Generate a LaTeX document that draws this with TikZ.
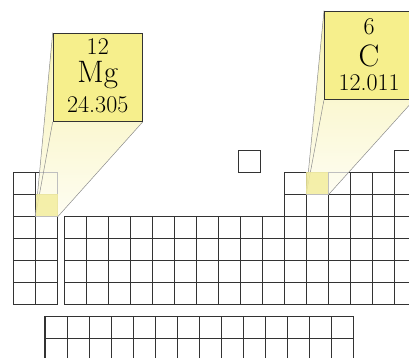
\documentclass[tikz,border=0pt]{standalone}
\usepackage{tikz}
\usetikzlibrary{positioning}
\definecolor{tilefill}{HTML}{F6EF8C}
\definecolor{conetop}{HTML}{F7F2B2}
\definecolor{conebot}{HTML}{FEFDF2}
\definecolor{hilitefill}{HTML}{F3ED9E}
\pgfdeclarelayer{gridlayer}
\pgfdeclarelayer{conelayer}
\pgfsetlayers{gridlayer,conelayer,main}

% whole table grid, drawn with the given cell style
\newcommand{\drawtable}[1]{%
    % s-block
    \foreach \c in {0,1}
        \foreach \r in {0,...,5}
            \draw[#1] ({13.5+22.05*\c},{172.3+22.05*\r}) rectangle ++(22.05,22.05);
    % d-block
    \foreach \c in {0,...,9}
        \foreach \r in {0,...,3}
            \draw[#1] ({64.3+22.05*\c},{216.4+22.05*\r}) rectangle ++(22.05,22.05);
    % p-block
    \foreach \c in {0,...,5}
        \foreach \r in {0,...,5}
            \draw[#1] ({284.3+22.05*\c},{172.3+22.05*\r}) rectangle ++(22.05,22.05);
    \draw[#1] (394.55,150.25) rectangle ++(22.05,22.05);
    % lone cell
    \draw[#1] (238.3,150.25) rectangle ++(22.05,22.05);
    % f-block
    \foreach \c in {0,...,13}
        \foreach \r in {0,1}
            \draw[#1] ({45+22.05*\c},{316.7+22.05*\r}) rectangle ++(22.05,22.05);
}

\begin{document}
\begin{tikzpicture}[
    x=1pt, y=-1pt,
    cell/.style={draw=black!80, line width=1.1pt},
    fadedcell/.style={draw=black!25, line width=1.1pt},
    tilebox/.style={rectangle, draw=black!80, line width=1.1pt, fill=tilefill,
        minimum width=89pt, minimum height=88pt, inner sep=0pt, anchor=north west},
    numtext/.style={anchor=base, inner sep=0pt, font=\fontsize{24}{28}\selectfont},
    symtext/.style={anchor=base, inner sep=0pt, font=\fontsize{31}{34}\selectfont},
    hilite/.style={rectangle, minimum size=22.05pt, inner sep=0pt, fill=hilitefill, fill opacity=0.85},
    cone/.style={top color=conetop, bottom color=conebot},
    coneline/.style={draw=black!45, line width=0.5pt}
]
    \useasboundingbox (0,0) rectangle (409,358);

    % Highlighted cells
    \node[hilite] (mgcell) at (46.6,205.4) {};
    \node[hilite] (ccell) at (317.4,183.3) {};

    % Callout tiles
    \node[tilebox] (mgbox) at (52.7,32.7) {};
    \node[numtext] (mgnum) at ([yshift=-22pt]mgbox.north) {12};
    \node[symtext] (mgsym) at ([yshift=-50pt]mgbox.north) {Mg};
    \node[numtext] (mgmass) at ([yshift=-80pt]mgbox.north) {24.305};

    \node[tilebox] (cbox) at (324,10.7) {};
    \node[numtext] (cnum) at ([yshift=-24pt]cbox.north) {6};
    \node[symtext] (csym) at ([yshift=-56pt]cbox.north) {C};
    \node[numtext] (cmass) at ([yshift=-80pt]cbox.north) {12.011};

    % Cones, with the grid showing faintly through them
    \begin{pgfonlayer}{conelayer}
        \begin{scope}
            \path[cone, clip] (mgbox.north west) -- (mgbox.south west) -- (mgbox.south east)
                -- (mgcell.south east) -- (mgcell.south west) -- cycle;
            \drawtable{fadedcell}
        \end{scope}
        \draw[coneline] (mgbox.north west) -- (mgcell.south west);
        \draw[coneline] (mgbox.south west) -- (mgcell.south west);
        \draw[coneline] (mgbox.south east) -- (mgcell.south east);

        \begin{scope}
            \path[cone, clip] (cbox.north west) -- (cbox.south west) -- (cbox.south east)
                -- (ccell.south east) -- (ccell.south west) -- cycle;
            \drawtable{fadedcell}
        \end{scope}
        \draw[coneline] (cbox.north west) -- (ccell.south west);
        \draw[coneline] (cbox.south west) -- (ccell.south west);
        \draw[coneline] (cbox.south east) -- (ccell.south east);
    \end{pgfonlayer}

    % Table grid
    \begin{pgfonlayer}{gridlayer}
        \drawtable{cell}
    \end{pgfonlayer}
\end{tikzpicture}
\end{document}
